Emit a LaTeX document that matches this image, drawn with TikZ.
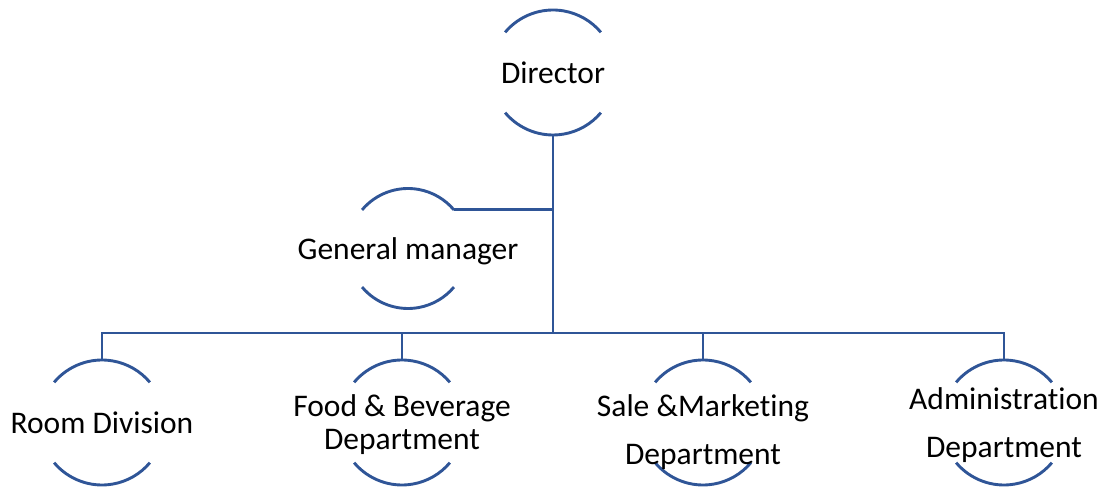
\documentclass[tikz,border=0pt]{standalone}
\usepackage{fontspec}
\setmainfont{Carlito}[Ligatures=NoCommon]
\definecolor{orgblue}{RGB}{47,85,151}
\tikzset{
  ring/.style={circle, minimum size=#1, inner sep=0pt, outer sep=0pt},
  orgline/.style={draw=orgblue, line width=2.9pt},
  nodetext/.style={font=\fontsize{31.5}{38}\selectfont, align=center, inner sep=0pt, text depth=0pt}
}
% top and bottom arcs of a ring, sides left open
\newcommand{\drawring}[2]{
  \draw[orgline] (#1.140) arc[start angle=140, end angle=40, radius=#2];
  \draw[orgline] (#1.220) arc[start angle=220, end angle=320, radius=#2];
}
\begin{document}
\begin{tikzpicture}[x=1pt, y=1pt]
\useasboundingbox (0,0) rectangle (1105,487);
\node[ring=125] (dir) at (553,414.5) {};
\node[ring=120] (gm) at (408,238.5) {};
\node[ring=125] (room) at (102,64.5) {};
\node[ring=125] (food) at (402,64.5) {};
\node[ring=125] (sale) at (703,64.5) {};
\node[ring=125] (admin) at (1004,64.5) {};
\drawring{dir}{62.5}\drawring{gm}{60}
\foreach \n in {room,food,sale,admin}{\drawring{\n}{62.5}}
\coordinate (bar) at (553,154);
\draw[orgline] (dir.south) -- (bar);
\draw[orgline] (gm.40) -- (gm.40 -| dir.south);
\draw[orgline] (room.north) |- (bar) -| (admin.north);
\foreach \n in {food,sale}{\draw[orgline] (\n.north) -- (\n.north |- bar);}
\node[nodetext] (dirtxt) at (dir) {Director};
\node[nodetext] (gmtxt) at (gm) {General manager};
\node[nodetext] (roomtxt) at (room) {Room Division};
\node[nodetext, font=\fontsize{31.5}{33}\selectfont] (foodtxt) at (food) {Food \& Beverage\\Department};
\node[nodetext] (saletxt) at ([yshift=-7]sale) {Sale \&Marketing\\[10pt]Department};
\node[nodetext] (admintxt) at (admin) {Administration\\[10pt]Department};
\end{tikzpicture}
\end{document}
